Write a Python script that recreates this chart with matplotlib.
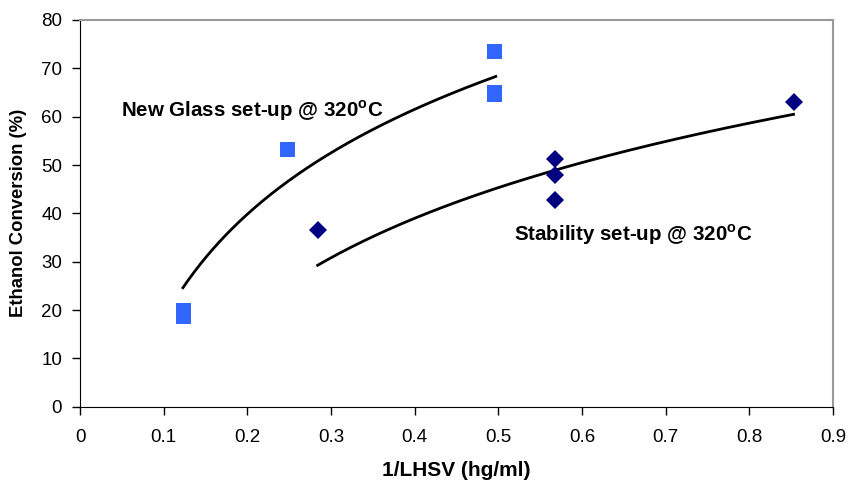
import numpy as np
import matplotlib
matplotlib.use("Agg")
import matplotlib.pyplot as plt

# New Glass set-up (squares)
glass_x = [0.123, 0.123, 0.247, 0.495, 0.495, 0.495]
glass_y = [19.9, 18.7, 53.3, 73.6, 65.2, 64.6]

# Stability set-up (diamonds)
stab_x = [0.284, 0.568, 0.568, 0.568, 0.853]
stab_y = [36.5, 51.2, 47.9, 42.8, 63.0]

# log trendlines y = a*ln(x) + b
glass_trend = (31.3, 90.2)
glass_trend_range = (0.123, 0.497)
stab_trend = (28.4, 65.0)
stab_trend_range = (0.284, 0.853)

x_ticks = [0, 0.1, 0.2, 0.3, 0.4, 0.5, 0.6, 0.7, 0.8, 0.9]
x_tick_labels = ["0", "0.1", "0.2", "0.3", "0.4", "0.5", "0.6", "0.7", "0.8", "0.9"]
y_ticks = [0, 10, 20, 30, 40, 50, 60, 70, 80]

plt.rcParams["font.family"] = ["Liberation Sans", "DejaVu Sans"]
plt.rcParams["mathtext.fontset"] = "custom"
plt.rcParams["mathtext.bf"] = "Liberation Sans:bold"
plt.rcParams["mathtext.rm"] = "Liberation Sans"

fig = plt.figure(figsize=(8.49, 4.83), dpi=100)
ax = fig.add_axes([0.0943, 0.158, 0.981 - 0.0943, 0.9586 - 0.158])


def trend_line(coef, xr):
    xs = np.linspace(xr[0], xr[1], 200)
    return xs, coef[0] * np.log(xs) + coef[1]


xs, ys = trend_line(glass_trend, glass_trend_range)
ax.plot(xs, ys, color="black", linewidth=2.0, zorder=2)
xs, ys = trend_line(stab_trend, stab_trend_range)
ax.plot(xs, ys, color="black", linewidth=2.0, zorder=2)

ax.plot(glass_x, glass_y, linestyle="none", marker="s", markersize=10.8,
        color="#3366FF", markeredgewidth=0, zorder=3)
ax.plot(stab_x, stab_y, linestyle="none", marker="D", markersize=8.7,
        color="#000080", markeredgewidth=0, zorder=3)

ax.text(0.0495, 61.3, r"New Glass set-up @ 320$^{\mathbf{o}}$C", fontsize=14.8,
        fontweight="bold", ha="left", va="center")
ax.text(0.519, 35.6, r"Stability set-up @ 320$^{\mathbf{o}}$C", fontsize=14.8,
        fontweight="bold", ha="left", va="center")

ax.set_xlim(0, 0.9)
ax.set_ylim(0, 80)
ax.set_xticks(x_ticks)
ax.set_xticklabels(x_tick_labels)
ax.set_yticks(y_ticks)
ax.tick_params(direction="out", length=6, width=1, labelsize=13.5, color="black")
ax.tick_params(axis="x", pad=10)
ax.tick_params(axis="y", pad=7)

for s in ["left", "bottom"]:
    ax.spines[s].set_color("black")
for s in ["top", "right"]:
    ax.spines[s].set_color("#999999")
    ax.spines[s].set_linewidth(1.5)

ax.set_xlabel("1/LHSV (hg/ml)", fontsize=15, fontweight="bold", labelpad=11)
ax.set_ylabel("Ethanol Conversion (%)", fontsize=13.3, fontweight="bold", labelpad=10)

fig.savefig("out.png", dpi=100)
